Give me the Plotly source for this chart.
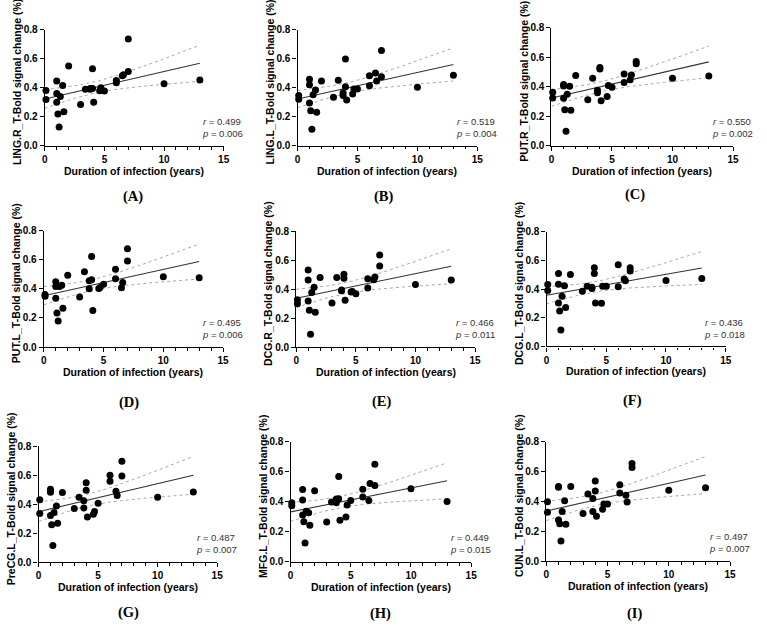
import numpy as np
import plotly.graph_objects as go

W, H = 767, 632

# ---------------- data ----------------
duration = [0.1, 0.1, 1.0, 1.0, 1.0, 1.1, 1.2, 1.3, 1.5, 1.6, 2.0, 3.0, 3.4, 3.8, 3.8,
            4.0, 4.0, 4.1, 4.6, 4.7, 5.0, 6.0, 6.0, 6.5, 6.6, 7.0, 7.0, 10.0, 13.0]

ling_r = [0.382, 0.32, 0.447, 0.36, 0.30, 0.22, 0.13, 0.34, 0.415, 0.235, 0.55, 0.285, 0.39, 0.39, 0.395,
          0.53, 0.395, 0.30, 0.38, 0.40, 0.378, 0.45, 0.435, 0.483, 0.49, 0.735, 0.512, 0.427, 0.454]
ling_l = [0.345, 0.32, 0.458, 0.42, 0.293, 0.24, 0.113, 0.35, 0.383, 0.23, 0.446, 0.333, 0.45, 0.365, 0.345,
          0.597, 0.405, 0.315, 0.356, 0.39, 0.39, 0.482, 0.412, 0.50, 0.446, 0.656, 0.475, 0.403, 0.485]
put_r = [0.362, 0.324, 0.415, 0.405, 0.322, 0.244, 0.098, 0.349, 0.404, 0.24, 0.476, 0.311, 0.458, 0.376, 0.36,
         0.531, 0.52, 0.304, 0.333, 0.409, 0.396, 0.487, 0.429, 0.447, 0.48, 0.571, 0.556, 0.458, 0.473]
put_l = [0.362, 0.35, 0.449, 0.416, 0.335, 0.234, 0.18, 0.416, 0.425, 0.267, 0.494, 0.344, 0.517, 0.40, 0.456,
         0.622, 0.463, 0.252, 0.402, 0.409, 0.431, 0.535, 0.47, 0.407, 0.443, 0.676, 0.591, 0.483, 0.476]
dcg_r = [0.328, 0.30, 0.533, 0.463, 0.319, 0.255, 0.088, 0.377, 0.414, 0.24, 0.481, 0.305, 0.481, 0.395, 0.39,
         0.504, 0.475, 0.323, 0.38, 0.384, 0.368, 0.472, 0.409, 0.466, 0.484, 0.637, 0.56, 0.432, 0.463]
dcg_l = [0.431, 0.39, 0.508, 0.433, 0.303, 0.246, 0.114, 0.349, 0.422, 0.271, 0.501, 0.385, 0.419, 0.412, 0.403,
         0.549, 0.508, 0.303, 0.30, 0.419, 0.419, 0.57, 0.415, 0.47, 0.458, 0.549, 0.526, 0.46, 0.474]
precg_l = [0.43, 0.336, 0.503, 0.482, 0.322, 0.259, 0.115, 0.343, 0.388, 0.268, 0.48, 0.37, 0.448, 0.424, 0.374,
           0.548, 0.496, 0.311, 0.331, 0.349, 0.406, 0.60, 0.559, 0.489, 0.46, 0.696, 0.595, 0.448, 0.485]
mfg_l = [0.395, 0.375, 0.482, 0.412, 0.312, 0.268, 0.126, 0.338, 0.327, 0.244, 0.475, 0.266, 0.399, 0.395, 0.419,
         0.569, 0.421, 0.277, 0.299, 0.379, 0.41, 0.484, 0.432, 0.41, 0.523, 0.65, 0.51, 0.488, 0.403]
cun_l = [0.398, 0.328, 0.50, 0.495, 0.275, 0.251, 0.136, 0.332, 0.404, 0.247, 0.50, 0.319, 0.45, 0.42, 0.332,
         0.536, 0.47, 0.30, 0.348, 0.383, 0.383, 0.511, 0.457, 0.442, 0.396, 0.654, 0.627, 0.474, 0.492]

series = [ling_r, ling_l, put_r, put_l, dcg_r, dcg_l, precg_l, mfg_l, cun_l]
regions = ["LING.R", "LING.L", "PUT.R", "PUT.L", "DCG.R", "DCG.L", "PreCG.L", "MFG.L", "CUN.L"]
r_values = ["0.499", "0.519", "0.550", "0.495", "0.466", "0.436", "0.487", "0.449", "0.497"]
p_values = ["0.006", "0.004", "0.002", "0.006", "0.011", "0.018", "0.007", "0.015", "0.007"]
panel_labels = ["(A)", "(B)", "(C)", "(D)", "(E)", "(F)", "(G)", "(H)", "(I)"]
x_ticks = [0, 5, 10, 15]
y_ticks = [0.0, 0.2, 0.4, 0.6, 0.8]
y_ticktext = ["0.0", "0.2", "0.4", "0.6", "0.8"]
x_title = "Duration of infection (years)"

# ---------------- layout (pixel positions of each plot area) ----------------
AX_X0 = [42.3, 298, 555, 41.3, 296.7, 550, 36, 291, 549.7]
AX_X1 = [223.3, 480, 738.7, 222.7, 477.7, 731.3, 216.7, 473.7, 735.7]
AX_YB = [142.7, 142.3, 142.3, 347.7, 347.7, 347, 567, 566.7, 566]
AX_YT = [24, 24, 22.3, 229, 229.7, 230, 448.7, 444.3, 444]
LABEL_X = [132, 386, 640, 128, 383, 637, 127, 382, 639]
LABEL_Y = [194, 194, 192, 404, 403, 402, 618, 619, 619]

def px(x):
    return x / W

def py(y):
    return 1 - y / H

SANS = "Liberation Sans, Arial, sans-serif"
SERIF = "Liberation Serif, Times New Roman, serif"
T_CRIT = 2.052  # two-sided 95% t, df = 27

fig = go.Figure()
annotations = []
layout_axes = {}

for i, yv in enumerate(series):
    k = "" if i == 0 else str(i + 1)
    xa, ya = "x" + k, "y" + k
    x = np.array(duration, dtype=float)
    y = np.array(yv, dtype=float)
    n = len(x)
    b, a = np.polyfit(x, y, 1)
    resid = y - (a + b * x)
    s = np.sqrt(np.sum(resid ** 2) / (n - 2))
    xm = x.mean()
    sxx = np.sum((x - xm) ** 2)
    xs = np.linspace(0.0, x.max(), 120)
    fit = a + b * xs
    half = T_CRIT * s * np.sqrt(1.0 / n + (xs - xm) ** 2 / sxx)

    for band in (fit + half, fit - half):
        fig.add_trace(go.Scatter(x=xs, y=band, mode="lines", xaxis=xa, yaxis=ya,
                                 line=dict(color="#a8a8a8", width=1, dash="dot"),
                                 hoverinfo="skip", showlegend=False, cliponaxis=False))
    fig.add_trace(go.Scatter(x=xs, y=fit, mode="lines", xaxis=xa, yaxis=ya,
                             line=dict(color="#333333", width=1.1),
                             hoverinfo="skip", showlegend=False, cliponaxis=False))
    fig.add_trace(go.Scatter(x=duration, y=yv, mode="markers", xaxis=xa, yaxis=ya,
                             marker=dict(color="black", size=7, line=dict(width=0)),
                             showlegend=False, cliponaxis=False))

    common = dict(showline=True, linecolor="black", linewidth=1.3, ticks="outside",
                  tickcolor="black", tickwidth=1.3, ticklen=4, showgrid=False, zeroline=False,
                  tickfont=dict(family=SANS, size=10, color="black", weight="bold"))
    layout_axes["xaxis" + k] = dict(common, domain=[px(AX_X0[i]), px(AX_X1[i])], anchor=ya,
                                    range=[0, 15], tickvals=x_ticks,
                                    minor=dict(ticks="outside", dtick=1, ticklen=2.5,
                                               tickwidth=1, tickcolor="black", showgrid=False))
    layout_axes["yaxis" + k] = dict(common, domain=[py(AX_YB[i]), py(AX_YT[i])], anchor=xa,
                                    range=[0, 0.8], tickvals=y_ticks, ticktext=y_ticktext)

    # axis titles
    annotations.append(dict(text=x_title, xref="paper", yref="paper",
                            x=px((AX_X0[i] + AX_X1[i]) / 2), y=py(AX_YB[i] + 25.5),
                            xanchor="center", yanchor="middle", showarrow=False,
                            font=dict(family=SANS, size=10.5, color="black", weight="bold")))
    annotations.append(dict(text=regions[i] + "_T-Bold signal change (%)", xref="paper", yref="paper",
                            x=px(AX_X0[i] - 28), y=py((AX_YB[i] + AX_YT[i]) / 2 - 6),
                            xanchor="center", yanchor="middle", textangle=-90, showarrow=False,
                            font=dict(family=SANS, size=10.5, color="black", weight="bold")))
    # statistics
    annotations.append(dict(text="<i>r</i> = " + r_values[i] + "<br><i>p</i> = " + p_values[i],
                            xref="paper", yref="paper", x=px(AX_X1[i] + 22), y=py(AX_YB[i] - 5),
                            xanchor="right", yanchor="bottom", align="left", showarrow=False,
                            font=dict(family=SANS, size=9.5, color="#333333")))
    # panel label
    annotations.append(dict(text="<b>" + panel_labels[i] + "</b>", xref="paper", yref="paper",
                            x=px(LABEL_X[i]), y=py(LABEL_Y[i]), xanchor="center", yanchor="middle",
                            showarrow=False, font=dict(family=SERIF, size=14.5, color="black")))

fig.update_layout(width=W, height=H, margin=dict(l=0, r=0, t=0, b=0),
                  paper_bgcolor="white", plot_bgcolor="white",
                  annotations=annotations, showlegend=False, **layout_axes)

fig.write_html("out.html")
